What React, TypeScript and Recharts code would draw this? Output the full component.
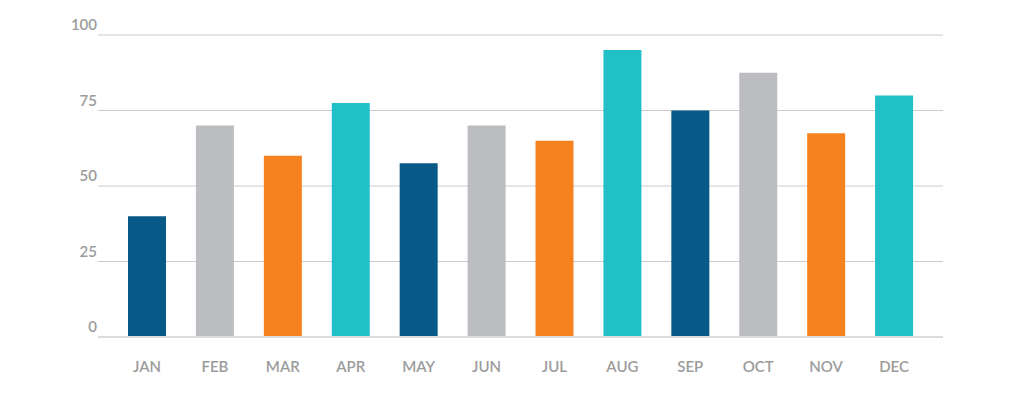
import React from 'react';
import { BarChart, Bar, XAxis, YAxis, CartesianGrid, Cell } from 'recharts';

const months = ['JAN', 'FEB', 'MAR', 'APR', 'MAY', 'JUN', 'JUL', 'AUG', 'SEP', 'OCT', 'NOV', 'DEC'];
const values = [40, 70, 60, 77.5, 57.5, 70, 65, 95, 75, 87.5, 67.5, 80];
const yTicks = [0, 25, 50, 75, 100];

const COLORS = ['#075a88', '#bcbdc0', '#f5821f', '#21bfc6'];

const data = months.map((m, i) => ({ month: m, value: values[i] }));

const FONT = 'Lato, "Open Sans", sans-serif';

const YTick = (props: any) => {
  const { y, payload } = props;
  return (
    <text x={97} y={y - 5} textAnchor="end" fill="#9b9b9b" fontSize={15} fontFamily={FONT} fontWeight={600}>
      {payload.value}
    </text>
  );
};

const XTick = (props: any) => {
  const { x, y, payload } = props;
  return (
    <text x={x} y={y + 33} textAnchor="middle" fill="#9b9b9b" fontSize={15} fontFamily={FONT} fontWeight={600}>
      {payload.value}
    </text>
  );
};

const App: React.FC = () => {
  return (
    <div style={{ position: 'absolute', left: 0, top: 0, width: 1024, height: 397, background: '#fff' }}>
      <BarChart width={1024} height={397} data={data} margin={{ top: 35, right: 81, bottom: 30, left: 58 }}>
        <XAxis
          dataKey="month"
          axisLine={{ stroke: '#dcdcdc', strokeWidth: 2 }}
          tickLine={false}
          tickSize={0}
          tick={<XTick />}
          padding={{ left: 15, right: 15 }}
          height={30}
          interval={0}
        />
        <YAxis
          domain={[0, 100]}
          ticks={yTicks}
          axisLine={false}
          tickLine={false}
          tickSize={0}
          tick={<YTick />}
          width={40}
        />
        <Bar dataKey="value" barSize={38} isAnimationActive={false}>
          {data.map((entry, index) => (
            <Cell key={`cell-${index}`} fill={COLORS[index % COLORS.length]} />
          ))}
        </Bar>
        <CartesianGrid vertical={false} stroke="#8c8c8c" strokeOpacity={0.45} />
      </BarChart>
    </div>
  );
};

export default App;
